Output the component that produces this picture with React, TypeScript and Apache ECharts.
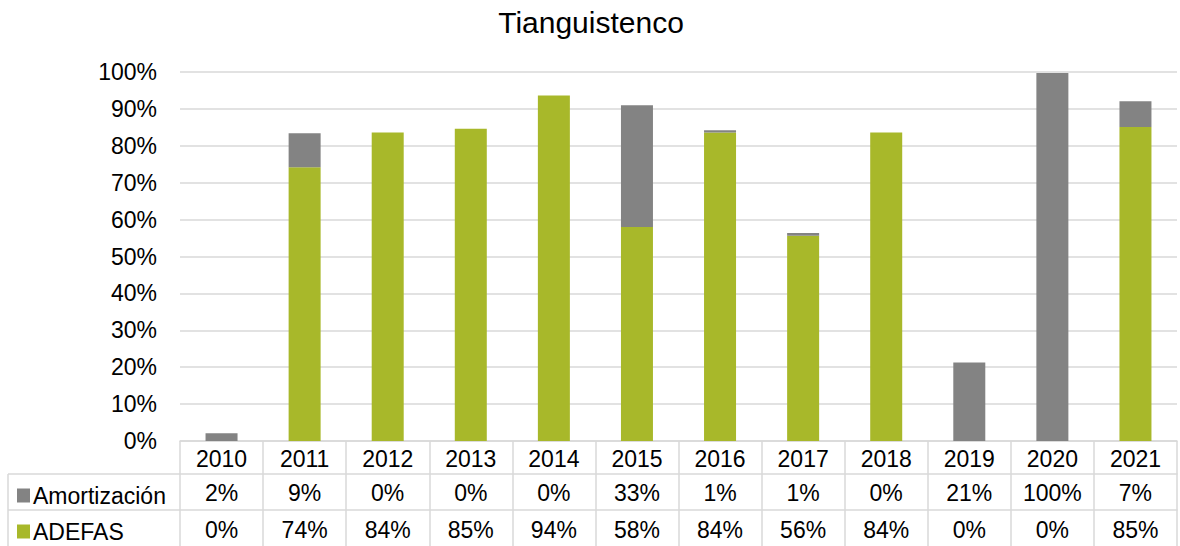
import React, { useEffect, useRef } from "react";
import * as echarts from "echarts";

const years = ["2010", "2011", "2012", "2013", "2014", "2015", "2016", "2017", "2018", "2019", "2020", "2021"];
const amortizacion = [2.1, 9.2, 0, 0, 0, 33.0, 0.6, 0.8, 0, 21.3, 99.7, 7.0];
const adefas = [0, 74.2, 83.6, 84.6, 93.6, 58.0, 83.6, 55.6, 83.6, 0, 0, 85.1];
const amortLabels = ["2%", "9%", "0%", "0%", "0%", "33%", "1%", "1%", "0%", "21%", "100%", "7%"];
const adefasLabels = ["0%", "74%", "84%", "85%", "94%", "58%", "84%", "56%", "84%", "0%", "0%", "85%"];

const FONT = "'Liberation Sans', Arial, sans-serif";
const GRAY = "#838383";
const GREEN = "#a8b82a";
const LINE = "#d9d9d9";

export default function App() {
  const ref = useRef<HTMLDivElement>(null);
  useEffect(() => {
    if (!ref.current) return;
    const chart = echarts.init(ref.current, null, { renderer: "svg" });
    const gridLeft = 180;
    const gridBottom = 105;
    const tableBottom = 546;
    const axisY = 546 - gridBottom;
    const labelStyle = { fontFamily: FONT, fontSize: 23, color: "#000" };
    const legendCommon = {
      orient: "horizontal",
      left: 12,
      icon: "rect",
      itemWidth: 13,
      itemHeight: 14,
      textStyle: { ...labelStyle, padding: [0, 0, 0, -2] },
      selectedMode: false,
    };
    chart.setOption({
      animation: false,
      textStyle: { fontFamily: FONT },
      title: {
        text: "Tianguistenco",
        left: 586,
        textAlign: "center",
        top: 2,
        textStyle: { fontFamily: FONT, fontSize: 30, fontWeight: "normal", color: "#000" },
      },
      legend: [
        { ...legendCommon, data: ["Amortización"], top: 479 },
        { ...legendCommon, data: ["ADEFAS"], top: 515 },
      ],
      grid: { left: gridLeft, right: 3, top: 72, bottom: gridBottom },
      xAxis: [
        {
          type: "category",
          data: years,
          position: "bottom",
          axisLine: { show: true, lineStyle: { color: LINE, width: 1.5 } },
          axisTick: { show: true, interval: 0, length: tableBottom - axisY, lineStyle: { color: LINE, width: 1.5 } },
          axisLabel: { ...labelStyle, margin: 6, interval: 0 },
        },
        {
          type: "category",
          data: amortLabels,
          position: "bottom",
          offset: 33,
          axisLine: { show: true, lineStyle: { color: LINE, width: 1.5 } },
          axisTick: { show: false },
          axisLabel: { ...labelStyle, margin: 7, interval: 0 },
        },
        {
          type: "category",
          data: adefasLabels,
          position: "bottom",
          offset: 69,
          axisLine: { show: true, lineStyle: { color: LINE, width: 1.5 } },
          axisTick: { show: false },
          axisLabel: { ...labelStyle, margin: 8, interval: 0 },
        },
      ],
      yAxis: {
        type: "value",
        min: 0,
        max: 100,
        interval: 10,
        axisLine: { show: false },
        axisTick: { show: false },
        axisLabel: { ...labelStyle, margin: 23, formatter: "{value}%" },
        splitLine: { lineStyle: { color: LINE, width: 1.5 } },
      },
      series: [
        {
          name: "ADEFAS",
          type: "bar",
          stack: "total",
          xAxisIndex: 0,
          data: adefas,
          barWidth: 32,
          itemStyle: { color: GREEN },
        },
        {
          name: "Amortización",
          type: "bar",
          stack: "total",
          xAxisIndex: 0,
          data: amortizacion,
          barWidth: 32,
          itemStyle: { color: GRAY },
        },
      ],
      graphic: [
        { type: "line", shape: { x1: 8, y1: axisY + 33, x2: gridLeft, y2: axisY + 33 }, style: { stroke: LINE, lineWidth: 1.5 } },
        { type: "line", shape: { x1: 8, y1: axisY + 69, x2: gridLeft, y2: axisY + 69 }, style: { stroke: LINE, lineWidth: 1.5 } },
        { type: "line", shape: { x1: 8, y1: axisY + 33, x2: 8, y2: tableBottom }, style: { stroke: LINE, lineWidth: 1.5 } },
      ],
    });
    return () => chart.dispose();
  }, []);
  return <div ref={ref} style={{ position: "absolute", left: 0, top: 0, width: 1180, height: 546 }} />;
}
